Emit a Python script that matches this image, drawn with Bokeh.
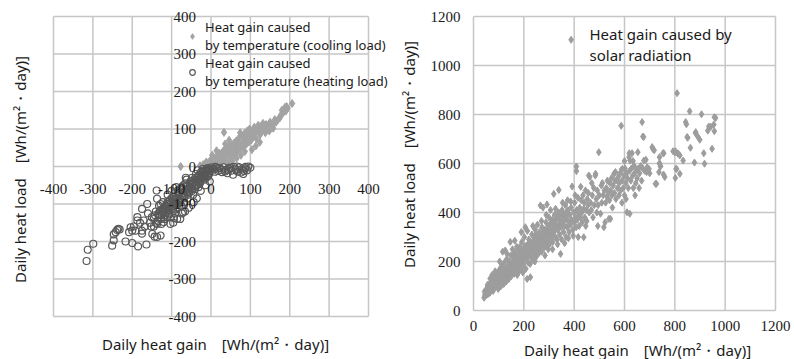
from bokeh.plotting import figure
from bokeh.models import Range1d, Legend, LegendItem, Label, LabelSet, ColumnDataSource
from bokeh.layouts import row
from bokeh.embed import file_html
from bokeh.resources import INLINE
import math

FONT = "Noto Sans"
TXT = "#1a1a1a"
GRIDC = "#c6c6c6"

# ---------------- data: left chart (heat gain caused by temperature) ----------------
left_ticks = [-400, -300, -200, -100, 0, 100, 200, 300, 400]

cool_x = [-28, -20, -15, -10, -5, -25, -12, -3, -77,
          0, 2, 5, 8, 10, 12, 15, 18, 20, 22, 25, 28, 30, 3, 14, 24, 6,
          32, 33, 35, 38, 40, 42, 45, 48, 50, 52, 55, 58, 60, 36, 46, 54, 44,
          62, 64, 66, 68, 70, 72, 75, 78, 80, 82, 85, 88, 90, 65, 76, 86, 74,
          92, 94, 96, 98, 100, 102, 105, 108, 110, 112, 115, 118, 120, 122, 125, 128, 130, 104, 114, 124,
          132, 135, 138, 140, 145, 148, 150, 155, 158, 162, 165, 170, 175, 178, 180, 184, 186, 188, 190, 192, 194, 206]
cool_y = [2, 5, 0, 8, 3, -3, 12, 15, 0,
          5, 18, 10, 22, 2, 15, 28, 8, 20, 35, 12, 25, 40, 30, 42, 4, 1,
          18, 91, 45, 30, 10, 50, 38, 22, 58, 45, 30, 62, 48, 60, 70, 15, 5,
          35, 68, 55, 42, 75, 60, 48, 80, 65, 52, 88, 72, 60, 22, 30, 40, 90,
          95, 78, 65, 100, 85, 70, 95, 80, 105, 90, 75, 100, 110, 92, 85, 108, 98, 45, 55, 65,
          115, 100, 90, 112, 105, 95, 118, 110, 102, 125, 118, 125, 130, 138, 150, 144, 152, 158, 148, 160, 155, 168]

heat_x = [2, 8, 12, 18, 22, 28, 32, 38, 42, 48, 52, 58, 62, 68, 72, 78, 84, 88, 95, 100, 82, 92, 56, 66,
          -2, -5, -8, -10, -12, -15, -18, -20, -3, -14, -7,
          -22, -25, -28, -30, -32, -35, -38, -40, -42, -45, -48, -50, -26, -36, -44, -34,
          -52, -55, -58, -60, -62, -65, -68, -70, -72, -75, -78, -80, -56, -66, -74, -64,
          -82, -85, -88, -90, -92, -95, -98, -100, -102, -105, -108, -110, -86, -96, -103, -94, -78, -71, -90,
          -112, -115, -118, -120, -122, -125, -126, -128, -130, -132, -135, -137, -137, -137, -138, -140, -143, -145, -149, -150,
          -155, -160, -162, -164, -168, -171, -175, -175, -175, -180, -185, -187, -187, -192, -196, -200, -200, -204, -208,
          -217, -232, -235, -238, -242, -247, -247, -251, -299, -313, -316,
          -60, -65, -70, -75, -80, -85, -88, -92, -95, -100, -105, -110, -115, -118, -120, -125, -128, -130,
          -45, -50, -55, -40, -30, -25, -20, -15, -10, -35, -48, -58, -68, -78, -84, -96, -106, -112,
          -6, 4, 10, 16, 26, 36, 46, 64, 76, 86,
          -62, -72, -82, -98, -108, -116, -124, -134, -142, -52, -42, -33, -24, -16, -4,
          -5, -9, -13, -17, -21, -27, -31, -37, -41, -47, -53, -57, -63, -67, -73, -77, -83, -87, -93, -97,
          -101, -107, -113, -117, -123, -127, -133, -139, -145, -152]
heat_y = [-2, -8, -1, -12, -4, -15, -2, -9, -18, -3, -11, -1, -6, -14, -2, -8, -12, -1, 0, -3, -20, -10, -22, 0,
          -8, -18, -4, -28, -12, -35, -20, -6, -40, -50, -25,
          -30, -15, -45, -22, -55, -35, -20, -60, -42, -75, -30, -55, -65, -85, -95, -10,
          -40, -70, -50, -85, -35, -65, -95, -50, -80, -105, -60, -90, -110, -120, -125, -30,
          -70, -110, -55, -95, -125, -80, -105, -65, -135, -90, -115, -75, -140, -150, -153, -137, -140, -122, -114,
          -100, -125, -140, -148, -95, -115, -153, -184, -130, -105, -145, -153, -188, -86, -64, -120, -187, -160, -180, -135,
          -150, -125, -100, -208, -160, -144, -113, -171, -179, -150, -213, -135, -144, -171, -160, -171, -204, -162, -175,
          -200, -168, -166, -169, -175, -181, -197, -211, -206, -222, -252,
          -60, -45, -70, -55, -75, -65, -85, -70, -100, -85, -110, -95, -105, -120, -110, -130, -100, -118,
          -45, -38, -55, -30, -35, -25, -15, -22, -15, -48, -65, -75, -82, -95, -100, -118, -128, -135,
          -12, -6, -14, -5, -9, -13, -7, -10, -16, -5,
          -68, -78, -92, -92, -100, -112, -118, -126, -130, -62, -52, -42, -30, -24, -18,
          -5, -20, -8, -30, -12, -40, -25, -50, -35, -58, -45, -68, -52, -80, -62, -88, -78, -100, -88, -112,
          -95, -125, -108, -130, -120, -140, -128, -150, -140, -160]

# ---------------- data: right chart (heat gain caused by solar radiation) ----------------
right_ticks = [0, 200, 400, 600, 800, 1000, 1200]

solar_x = [42, 45, 48, 50, 52, 55, 58, 60, 44, 56,
           62, 65, 68, 70, 72, 75, 78, 80, 82, 85, 88, 90, 92, 95, 98, 66, 74, 86, 96, 63,
           100, 102, 105, 108, 110, 112, 115, 118, 120, 122, 125, 128, 130, 132, 135, 138, 140, 104, 116, 126, 134, 109, 121, 137,
           142, 145, 148, 150, 152, 155, 158, 160, 162, 165, 168, 170, 172, 175, 178, 180, 146, 164, 156, 174, 144, 170, 159, 177,
           182, 184, 186, 188, 190, 192, 195, 198, 200, 202, 205, 208, 210, 212, 215, 218, 220, 206, 190, 214, 196, 216, 186, 204, 219,
           222, 225, 228, 230, 232, 235, 238, 240, 242, 245, 248, 250, 252, 255, 258, 260, 226, 213, 236, 254, 244, 229, 247, 257,
           262, 265, 268, 270, 272, 275, 278, 280, 282, 285, 288, 290, 292, 295, 298, 300, 266, 292, 276, 284, 297, 270, 289, 280,
           302, 305, 308, 310, 312, 315, 318, 320, 322, 325, 328, 330, 332, 335, 338, 340, 319, 339, 306, 326, 314, 334, 300, 346,
           342, 345, 348, 350, 352, 355, 358, 360, 362, 365, 368, 370, 372, 375, 378, 380, 354, 374, 362, 377, 366,
           382, 385, 388, 390, 392, 395, 398, 400, 402, 405, 408, 409, 409, 410, 412, 415, 418, 420, 386, 416, 404, 396,
           422, 425, 428, 430, 432, 435, 438, 440, 442, 445, 448, 450, 452, 455, 458, 460, 438, 446, 456, 426, 462,
           465, 468, 472, 475, 478, 480, 484, 485, 488, 490, 492, 495, 498, 500, 505, 508, 510, 512, 515, 518, 520, 523, 470, 494,
           525, 528, 530, 532, 535, 538, 540, 542, 545, 548, 550, 552, 555, 558, 560, 562, 564, 566, 570, 572, 575, 578, 580, 544,
           582, 585, 587, 588, 590, 592, 595, 598, 600, 602, 605, 608, 610, 612, 615, 618, 619, 620, 621, 622, 590, 600, 606,
           625, 628, 630, 632, 635, 638, 640, 645, 648, 650, 653, 655, 660, 665, 670, 672, 673, 676, 677, 680, 685, 688, 690, 695, 697, 700, 642, 658, 668, 634,
           710, 713, 718, 723, 727, 737, 739, 740, 743, 743, 739, 753, 755, 756, 760,
           793, 800, 803, 805, 802, 807, 809, 812, 813, 820, 820, 833, 843, 846, 849, 851, 859, 862, 878, 882, 883, 891, 899, 906, 915, 918, 931, 935, 943, 948, 955, 957, 957, 962,
           388,
           46, 53, 57, 64, 69, 73, 77, 83, 87, 93, 97, 103, 107, 113, 117, 123, 127, 133, 139, 143, 147, 153, 157, 163, 167,
           173, 179, 183, 187, 193, 197, 203, 207, 213, 217, 223, 227, 233, 237, 243, 249, 253, 259, 263, 269, 273, 279, 283,
           289, 293, 299, 303, 309, 313, 319, 323, 329, 333, 343, 353, 363, 373]
solar_y = [52, 60, 70, 82, 64, 95, 75, 88, 78, 105,
           100, 72, 115, 90, 128, 105, 80, 140, 118, 95, 130, 150, 108, 125, 88, 130, 145, 160, 140, 85,
           115, 165, 135, 98, 150, 180, 125, 160, 108, 195, 140, 170, 118, 210, 150, 185, 128, 200, 240, 245, 230, 175, 152, 165,
           200, 160, 225, 140, 185, 250, 170, 210, 150, 235, 190, 165, 260, 205, 180, 230, 280, 285, 195, 145, 178, 215, 230, 250,
           160, 260, 200, 240, 175, 280, 215, 250, 190, 300, 230, 170, 265, 210, 245, 195, 290, 340, 320, 325, 155, 270, 225, 262, 225,
           240, 190, 275, 215, 310, 255, 205, 290, 230, 330, 265, 220, 300, 245, 280, 235, 136, 129, 345, 350, 200, 250, 310, 260,
           320, 260, 290, 240, 340, 275, 305, 255, 330, 285, 360, 265, 310, 280, 345, 300, 429, 433, 420, 225, 250, 365, 390, 300,
           270, 330, 295, 360, 310, 280, 350, 320, 390, 300, 340, 375, 290, 330, 400, 350, 476, 492, 410, 415, 250, 270, 380, 231,
           310, 380, 340, 290, 410, 360, 320, 390, 345, 430, 300, 375, 340, 410, 360, 320, 440, 450, 275, 295, 395,
           390, 350, 420, 370, 506, 330, 400, 360, 440, 380, 340, 588, 569, 410, 370, 460, 395, 345, 445, 300, 470, 305,
           420, 380, 450, 400, 360, 470, 415, 440, 380, 490, 410, 365, 455, 430, 551, 400, 299, 345, 480, 505, 545,
           440, 410, 470, 380, 500, 430, 551, 558, 455, 400, 490, 430, 646, 470, 395, 510, 440, 520, 470, 340, 490, 360, 520, 345,
           440, 500, 465, 530, 480, 374, 450, 520, 490, 540, 470, 420, 510, 558, 480, 530, 565, 455, 531, 500, 545, 470, 520, 374,
           560, 490, 754, 575, 530, 578, 500, 550, 470, 580, 520, 560, 401, 540, 500, 626, 642, 570, 395, 612, 440, 610, 455,
           530, 580, 642, 550, 500, 590, 560, 520, 575, 540, 646, 580, 560, 590, 769, 580, 710, 708, 612, 570, 615, 565, 585, 575, 578, 560, 470, 500, 530, 610,
           667, 659, 654, 517, 517, 565, 601, 599, 588, 590, 626, 642, 555, 642, 545,
           650, 645, 650, 578, 541, 578, 887, 640, 641, 558, 633, 612, 769, 760, 708, 705, 813, 664, 604, 724, 728, 710, 697, 801, 642, 599, 734, 751, 750, 660, 759, 789, 732, 786,
           1105,
           68, 85, 66, 95, 108, 96, 120, 105, 138, 118, 112, 145, 122, 140, 175, 130, 158, 170, 150, 190, 172, 160, 200, 178, 215,
           192, 170, 210, 195, 232, 205, 245, 215, 232, 260, 228, 252, 270, 240, 282, 255, 270, 300, 275, 310, 290, 322, 300,
           330, 315, 322, 345, 318, 370, 335, 360, 345, 385, 365, 390, 372, 400]

LEG_LEFT = ["Heat gain caused\nby temperature (cooling load)", "Heat gain caused\nby temperature (heating load)"]
LEG_RIGHT = ["Heat gain caused by", "solar radiation"]
XLABEL = "Daily heat gain\u3000[Wh/(m\u00b2\u30fbday)]"
YLABEL = "Daily heat load\u3000[Wh/(m\u00b2\u30fbday)]"


def make_fig(W, H, ticks, plot_box):
    """plot_box = (left, top, right, bottom) of the gridded area in figure pixels."""
    l, t, r, b = plot_box
    lo, hi = min(ticks), max(ticks)
    kx = (r - l) / (hi - lo)
    ky = (b - t) / (hi - lo)
    xr = Range1d(lo - l / kx, hi + (W - r) / kx)
    yr = Range1d(lo - (H - b) / ky, hi + t / ky)
    p = figure(width=W, height=H, x_range=xr, y_range=yr, x_axis_location=None, y_axis_location=None,
               output_backend="svg", toolbar_location=None, min_border=0,
               min_border_left=0, min_border_right=0, min_border_top=0, min_border_bottom=0)
    p.outline_line_color = None
    p.grid.visible = False
    p.background_fill_color = "white"
    p.border_fill_color = "white"
    n = len(ticks)
    p.segment(x0=ticks, y0=[lo] * n, x1=ticks, y1=[hi] * n, line_color=GRIDC, line_width=1.5)
    p.segment(x0=[lo] * n, y0=ticks, x1=[hi] * n, y1=ticks, line_color=GRIDC, line_width=1.5)
    return p


def tick_labels(p, xticks, yticks, x_at, y_at, xoff, yoff):
    sx = ColumnDataSource(dict(v=xticks, c=[y_at] * len(xticks), t=[str(v) for v in xticks]))
    sy = ColumnDataSource(dict(v=yticks, c=[x_at] * len(yticks), t=[str(v) for v in yticks]))
    p.add_layout(LabelSet(x="v", y="c", text="t", source=sx, y_offset=yoff, text_align="center",
                          text_baseline="middle", text_font=FONT, text_font_size="15px", text_color=TXT))
    p.add_layout(LabelSet(x="c", y="v", text="t", source=sy, x_offset=xoff, text_align="right",
                          text_baseline="middle", text_font=FONT, text_font_size="15px", text_color=TXT))


def text_label(p, text, x, y, angle=0.0, align="center", size="15px"):
    p.add_layout(Label(x=x, y=y, x_units="screen", y_units="screen", text=text, angle=angle,
                       text_align=align, text_baseline="middle", text_font=FONT,
                       text_font_size=size, text_color=TXT))


H = 359

# ---------------- left figure ----------------
WL = 400
pl = make_fig(WL, H, left_ticks, (53, 16, 368, 316))
tick_labels(pl, left_ticks, left_ticks, 0, 0, -15, -22)
text_label(pl, XLABEL, 215, H - 343)
text_label(pl, YLABEL, 19, H - 169, angle=math.pi / 2)

src_c = ColumnDataSource(dict(x=cool_x, y=cool_y))
src_h = ColumnDataSource(dict(x=heat_x, y=heat_y))
rc = pl.scatter("x", "y", source=src_c, marker="diamond", size=8, fill_color="#a3a3a3", line_color="#a3a3a3")
rh = pl.scatter("x", "y", source=src_h, marker="circle", size=7, fill_color=None, line_color="#585858", line_width=1.2)

leg = Legend(items=[LegendItem(label=LEG_LEFT[0], renderers=[rc]), LegendItem(label=LEG_LEFT[1], renderers=[rh])],
             location=(184, 269), padding=0, margin=0, spacing=0, glyph_width=16, glyph_height=14,
             label_standoff=5, background_fill_alpha=0, border_line_color=None,
             label_text_font=FONT, label_text_font_size="13px", label_text_color=TXT, label_text_line_height=1.45)
pl.add_layout(leg)

# ---------------- right figure ----------------
WR = 394
pr = make_fig(WR, H, right_ticks, (73, 16, 375, 310))
tick_labels(pr, right_ticks, right_ticks, 0, 0, -13, -15)
text_label(pr, XLABEL, 237, H - 349)
text_label(pr, YLABEL, 8, H - 154, angle=math.pi / 2)

src_s = ColumnDataSource(dict(x=solar_x, y=solar_y))
pr.scatter("x", "y", source=src_s, marker="diamond", size=7, fill_color="#9d9d9d", line_color="#9d9d9d")
text_label(pr, LEG_RIGHT[0], 189, H - 33, align="left")
text_label(pr, LEG_RIGHT[1], 189, H - 54, align="left")

layout = row(pl, pr)
open("out.html", "w").write(file_html(layout, INLINE))
